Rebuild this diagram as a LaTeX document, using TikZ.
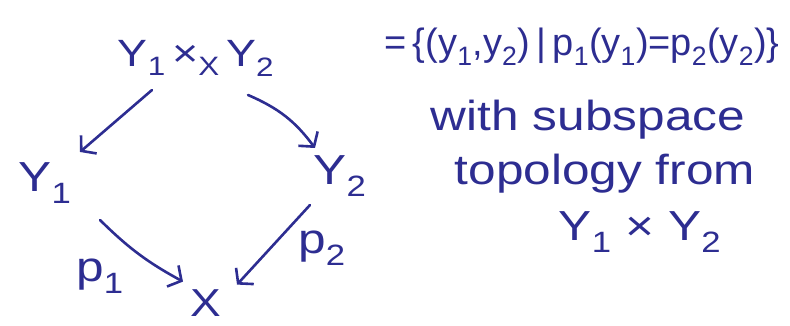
\documentclass[tikz,border=0pt]{standalone}
\usepackage{fontspec}
\setmainfont{Liberation Sans}
\newfontfamily\hand[FakeStretch=1.18]{Liberation Sans}
\usetikzlibrary{arrows.meta}
\definecolor{ink}{RGB}{45,45,145}
\newcommand{\sbs}[1]{\textsubscript{#1}}
\begin{document}
\begin{tikzpicture}[x=1pt,y=-1pt,
  lbl/.style={text=ink, font=\hand\fontsize{42}{46}\selectfont, inner sep=2pt},
  arr/.style={draw=ink, line width=2.6pt, -{Straight Barb[length=10pt,width=24pt,line width=2.6pt]}, line cap=round, line join=round}]
\useasboundingbox (0,0) rectangle (790,326);
\node[lbl, font=\hand\fontsize{38}{42}\selectfont] (P) at (196,58) {Y\sbs{1}\,×\sbs{X}\,Y\sbs{2}};
\node[lbl] (Y1) at (45,183) {Y\sbs{1}};
\node[lbl] (Y2) at (340,176) {Y\sbs{2}};
\node[lbl, inner sep=0pt, anchor=base, font=\hand\fontsize{39}{43}\selectfont] (X) at (206,316) {X};
\draw[arr] ([shift={(-44,32)}]P.center) to ([shift={(35,-31)}]Y1.center);
\draw[arr] ([shift={(52,37)}]P.center) to[bend left=15] ([shift={(-25,-28)}]Y2.center);
\draw[arr] ([shift={(55,37)}]Y1.center) to[bend right=8] ([shift={(-23,-21)}]X.center);
\draw[arr] ([shift={(-30,29)}]Y2.center) to ([shift={(31,-18)}]X.center);
\node[lbl] (p1) at (100,276) {p\sbs{1}};
\node[lbl] (p2) at (322,248) {p\sbs{2}};
\node[lbl, font=\fontsize{38}{42}\selectfont] (eq) at (582,47) {=\,\{(y\sbs{1},y\sbs{2})\,|\,p\sbs{1}(y\sbs{1})=p\sbs{2}(y\sbs{2})\}};
\node[lbl] (t1) at (588,120) {with subspace};
\node[lbl] (t2) at (605,174) {topology from};
\node[lbl] (t3) at (640,232) {Y\sbs{1} × Y\sbs{2}};
\end{tikzpicture}
\end{document}
